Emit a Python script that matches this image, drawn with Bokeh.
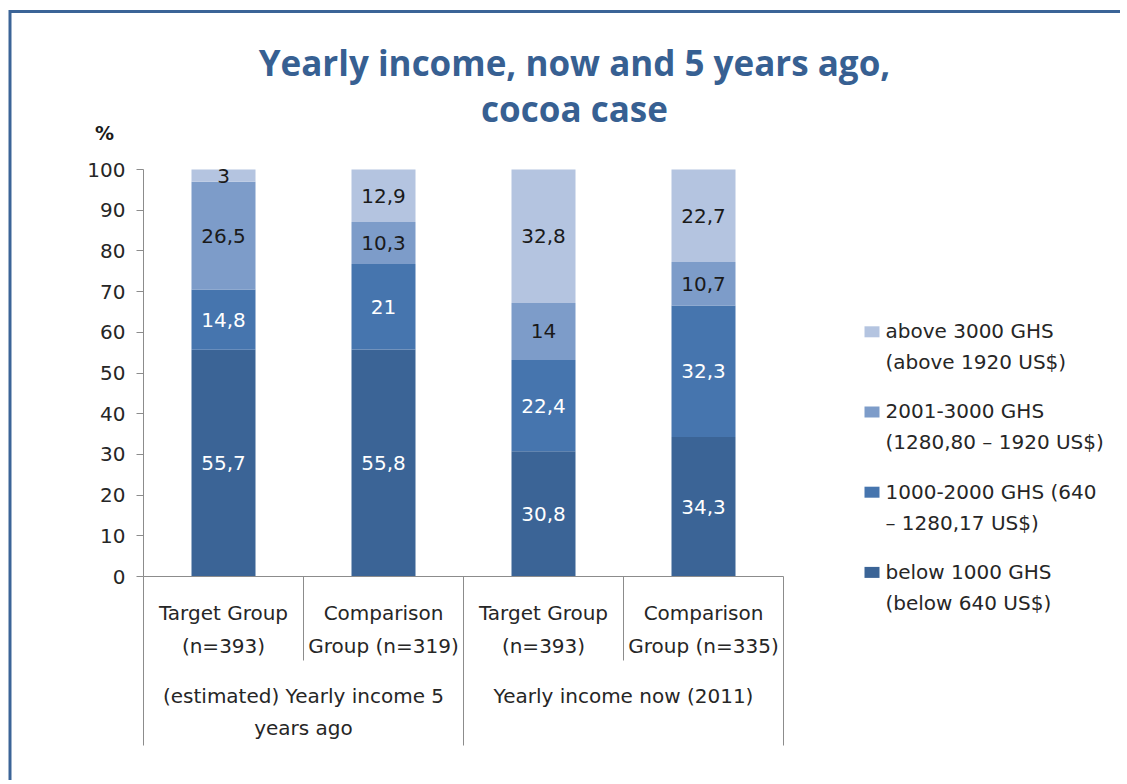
from bokeh.plotting import figure
from bokeh.models import Range1d, LinearAxis, FixedTicker, ColumnDataSource
from bokeh.core.properties import value
from bokeh.embed import file_html
from bokeh.resources import INLINE

# ---------------- data ----------------
title_lines = ["Yearly income, now and 5 years ago,", "cocoa case"]
y_unit = "%"
group_lines = [["(estimated) Yearly income 5", "years ago"], ["Yearly income now (2011)"]]
subs_per_group = [2, 2]
sub_lines = [["Target Group", "(n=393)"], ["Comparison", "Group (n=319)"],
             ["Target Group", "(n=393)"], ["Comparison", "Group (n=335)"]]
series_names = ["below 1000 GHS (below 640 US$)",
                "1000-2000 GHS (640 – 1280,17 US$)",
                "2001-3000 GHS (1280,80 – 1920 US$)",
                "above 3000 GHS (above 1920 US$)"]
legend_lines = [["below 1000 GHS", "(below 640 US$)"],
                ["1000-2000 GHS (640", "– 1280,17 US$)"],
                ["2001-3000 GHS", "(1280,80 – 1920 US$)"],
                ["above 3000 GHS", "(above 1920 US$)"]]
below_1000 = [55.7, 55.8, 30.8, 34.3]
ghs_1000_2000 = [14.8, 21.0, 22.4, 32.3]
ghs_2001_3000 = [26.5, 10.3, 14.0, 10.7]
above_3000 = [3.0, 12.9, 32.8, 22.7]
y_ticks = [0, 10, 20, 30, 40, 50, 60, 70, 80, 90, 100]

# ---------------- styles ----------------
colors = ["#3B6496", "#4675AE", "#7D9CC9", "#B4C4E0"]
label_colors = ["#FFFFFF", "#FFFFFF", "#1A1A1A", "#1A1A1A"]
title_color = "#376092"
text_color = "#262626"
axis_color = "#8C8C8C"
FONT = "DejaVu Sans"

W, H = 1120, 780
PAGE = 0
CAT_PX = 160.0
X0_PAGE = 143.0
Y0_PAGE = 576.0
Y_PX = 4.07


def fx(px):
    return (px - X0_PAGE) / CAT_PX


def fy(py):
    return (Y0_PAGE - py) / Y_PX


p = figure(width=W, height=H, output_backend="svg", toolbar_location=None,
           x_range=Range1d(fx(PAGE), fx(PAGE + W)),
           y_range=Range1d(fy(PAGE + H), fy(PAGE)),
           x_axis_location=None, y_axis_location=None,
           min_border=0, min_border_left=0, min_border_right=0,
           min_border_top=0, min_border_bottom=0,
           outline_line_color=None, background_fill_color="white",
           border_fill_color="white")
p.xgrid.grid_line_color = None
p.ygrid.grid_line_color = None

n = len(below_1000)
values = [below_1000, ghs_1000_2000, ghs_2001_3000, above_3000]
keys = ["s0", "s1", "s2", "s3"]
data = {"x": [i + 0.5 for i in range(n)]}
for k, v in zip(keys, values):
    data[k] = v
src = ColumnDataSource(data)
p.vbar_stack(keys, x="x", width=0.4, fill_color=colors, line_color=None, source=src)

# value labels
lx, ly, lt, lc = [], [], [], []
cum = [0.0] * n
for s, vals in enumerate(values):
    for i, v in enumerate(vals):
        lx.append(i + 0.5)
        ly.append(cum[i] + v / 2.0)
        lt.append(f"{v:g}".replace(".", ","))
        lc.append(label_colors[s])
        cum[i] += v
p.text(x="x", y="y", text="t", text_color="c",
       source=ColumnDataSource(dict(x=lx, y=ly, t=lt, c=lc)),
       text_font=value(FONT), text_font_size="20px",
       text_align="center", text_baseline="middle")

# axes
yaxis = LinearAxis(fixed_location=0, bounds=(0, 100), ticker=FixedTicker(ticks=y_ticks),
                   axis_line_color=axis_color, major_tick_line_color=axis_color,
                   minor_tick_line_color=None, major_tick_in=0, major_tick_out=7,
                   major_label_standoff=11, major_label_text_font=FONT,
                   major_label_text_font_size="20px", major_label_text_color=text_color)
p.add_layout(yaxis, "left")

bounds_major = [0]
for c in subs_per_group:
    bounds_major.append(bounds_major[-1] + c)
minor = [i for i in range(n + 1) if i not in bounds_major]
xaxis = LinearAxis(fixed_location=0, bounds=(0, n),
                   ticker=FixedTicker(ticks=bounds_major, minor_ticks=minor),
                   axis_line_color=axis_color, major_tick_line_color=axis_color,
                   minor_tick_line_color=axis_color, major_tick_in=0, major_tick_out=169,
                   minor_tick_in=0, minor_tick_out=84,
                   major_label_text_color=None, major_label_text_font_size="1px")
p.add_layout(xaxis, "below")

# category labels
cx, cy, ct = [], [], []
for i, lines in enumerate(sub_lines):
    for j, line in enumerate(lines):
        cx.append(i + 0.5)
        cy.append(fy(612 + 33 * j))
        ct.append(line)
for g, lines in enumerate(group_lines):
    center = bounds_major[g] + subs_per_group[g] / 2.0
    for j, line in enumerate(lines):
        cx.append(center)
        cy.append(fy(695.5 + 32.2 * j))
        ct.append(line)
p.text(x="x", y="y", text="t", source=ColumnDataSource(dict(x=cx, y=cy, t=ct)),
       text_font=value(FONT), text_font_size="20px", text_color=text_color,
       text_align="center", text_baseline="middle")

# title
p.text(x=[fx(574)] * 2, y=[fy(62), fy(108)], text=title_lines,
       text_font=value("Open Sans"), text_font_style="bold", text_font_size="35px",
       text_color=title_color, text_align="center", text_baseline="alphabetic")

# unit
p.text(x=[fx(104)], y=[fy(132)], text=[y_unit], text_font=value(FONT),
       text_font_style="bold", text_font_size="19px", text_color="#1A1A1A",
       text_align="center", text_baseline="alphabetic")

# legend (top entry = last series)
sx, sy, sc = [], [], []
tx, ty, tt = [], [], []
for k in range(len(series_names)):
    s = len(series_names) - 1 - k
    sx.append(fx(871.5))
    sy.append(fy(331.3 + 80.2 * k))
    sc.append(colors[s])
    for j, line in enumerate(legend_lines[s]):
        tx.append(fx(885))
        ty.append(fy(330.7 + 80.2 * k + 31 * j))
        tt.append(line)
p.rect(x="x", y="y", width=15, height=11, width_units="screen", height_units="screen",
       fill_color="c", line_color=None, source=ColumnDataSource(dict(x=sx, y=sy, c=sc)))
p.text(x="x", y="y", text="t", source=ColumnDataSource(dict(x=tx, y=ty, t=tt)),
       text_font=value(FONT), text_font_size="20px", text_color=text_color,
       text_align="left", text_baseline="middle")

# chart border (top and left edges of the chart area)
border = "#3B6497"
p.line(x=[fx(PAGE + W), fx(9.5), fx(9.5)], y=[fy(11), fy(11), fy(PAGE + H)],
       line_color=border, line_width=3, line_join="miter")

open("out.html", "w").write(file_html(p, INLINE))
